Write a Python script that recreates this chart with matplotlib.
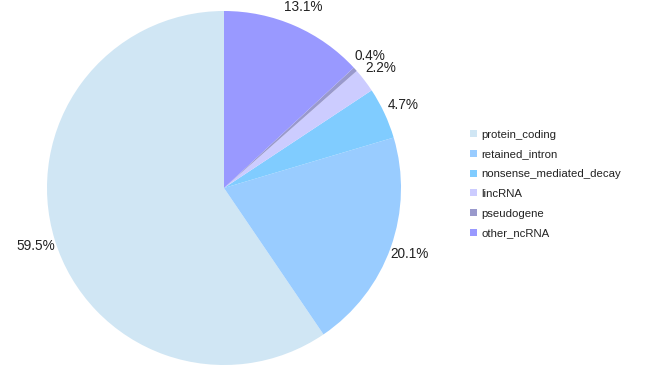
import numpy as np
import matplotlib.pyplot as plt

plt.rcParams["font.family"] = ["Liberation Sans", "DejaVu Sans"]

labels = ["protein_coding", "retained_intron", "nonsense_mediated_decay",
          "lincRNA", "pseudogene", "other_ncRNA"]
values = [59.5, 20.1, 4.7, 2.2, 0.4, 13.1]
colors = ["#D0E6F4", "#99CCFF", "#80CCFF", "#CCCCFF", "#9999CC", "#9999FF"]

fig = plt.figure(figsize=(6.5, 3.68), dpi=100)
ax = fig.add_axes([47 / 650, 3 / 368, 354 / 650, 354 / 368])

wedges, texts = ax.pie(values, colors=colors, startangle=90, counterclock=True,
                       labels=[f"{v:.1f}%" for v in values], labeldistance=1.115,
                       wedgeprops=dict(linewidth=0))
for t in texts:
    t.set_ha("center")
    t.set_va("center")
    t.set_fontsize(9.8)
    t.set_color("#222222")
ax.set_xlim(-1, 1)
ax.set_ylim(-1, 1)
ax.set_aspect("equal")

fig.legend(wedges, labels, loc="center left", bbox_to_anchor=(460 / 650, 1 - 184 / 368),
           frameon=False, fontsize=8.2, handlelength=0.6, handleheight=0.6,
           handletextpad=0.4, labelspacing=0.85, labelcolor="#222222")

plt.savefig("out.png", dpi=100)
